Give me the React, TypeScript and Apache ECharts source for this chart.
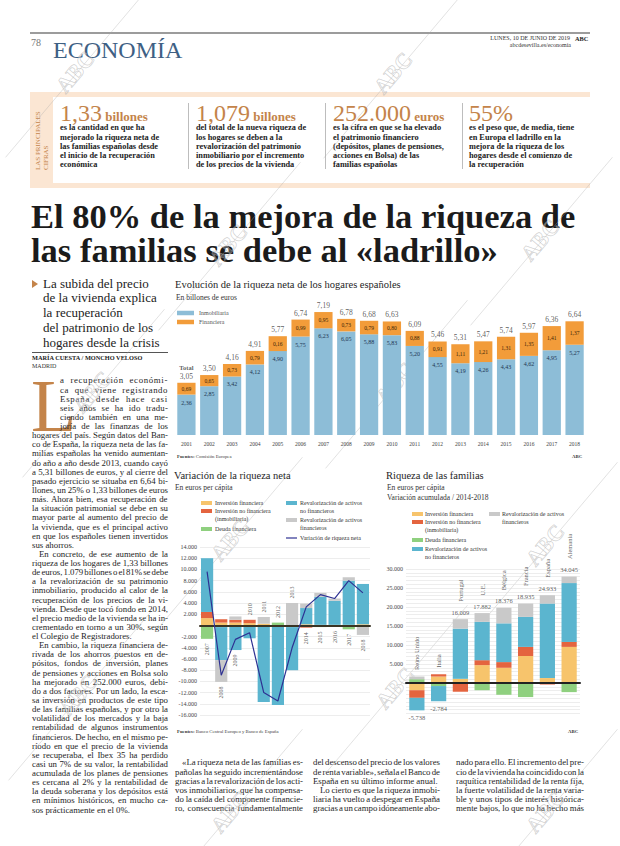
import React, { useEffect, useRef } from "react";
import * as echarts from "echarts";

// ---------- DATA ----------
const years1 = ["2001","2002","2003","2004","2005","2006","2007","2008","2009","2010","2011","2012","2013","2014","2015","2016","2017","2018"];
const inmobiliaria = [2.36, 2.85, 3.42, 4.12, 4.90, 5.75, 6.23, 6.05, 5.88, 5.83, 5.20, 4.55, 4.19, 4.26, 4.43, 4.62, 4.95, 5.27];
const financiera = [0.69, 0.65, 0.73, 0.79, 0.87, 0.99, 0.95, 0.73, 0.79, 0.80, 0.88, 0.91, 1.11, 1.21, 1.31, 1.35, 1.41, 1.37];
const financieraPrinted = ["0,69","0,65","0,73","0,79","0,16","0,99","0,95","0,73","0,79","0,80","0,88","0,91","1,11","1,21","1,31","1,35","1,41","1,37"];
const totals1 = [3.05, 3.50, 4.16, 4.91, 5.77, 6.74, 7.19, 6.78, 6.68, 6.63, 6.09, 5.46, 5.31, 5.47, 5.74, 5.97, 6.36, 6.64];

const years2 = ["2007","2008","2009","2010","2011","2012","2013","2014","2015","2016","2017","2018"];
const invFin2 = [1300, 500, 500, 400, 300, 0, 0, 200, 100, 100, 100, 200];
const invNoFin2 = [1100, 600, 500, 600, 0, 0, -300, -400, 0, 0, 0, 0];
const deuda2 = [-2400, -300, 0, 0, 0, 500, 0, 0, -300, -200, -700, 0];
const actNoFin2 = [9600, -5900, -4400, -2300, -13700, -14200, -7700, 2900, 5000, 4300, 7900, 7200];
const actFin2 = [0, -3900, 600, 0, 1200, 0, 4000, 800, 700, 400, 600, -1700];
const neta2 = [9600, -8900, -2500, -1300, -12000, -13500, -4000, 3300, 5500, 4800, 8000, 5800];
const yearSide2 = ["below","below","below","above","above","above","above","below","below","below","below","below"];

const countries = ["Reino Unido","Italia","Portugal","U.E.","Bélgica","Francia","España","Alemania"];
const invFin3 = [-1900, 1700, 1100, 4700, 4000, 7100, 1300, 9500];
const invNoFin3 = [-2000, 600, -2300, 1300, 1500, 2400, -400, 1300];
const deuda3 = [1000, -800, 0, -1900, -3100, -3700, 0, -2400];
const actNoFin3 = [-3300, -4000, 13200, 10100, 10200, 7900, 19600, 15500];
const actFin3 = [700, 0, 2500, 2300, 4100, 3500, 2200, 1700];
const total3 = [-5738, -2784, 16009, 17882, 18376, 18935, 24933, 34045];

const serieNames = [
  "Inversión financiera",
  "Inversión no financiera (inmobiliaria)",
  "Deuda financiera",
  "Revalorización de activos no financieros",
  "Revalorización de activos financieros",
];
const netaName = "Variación de riqueza neta";

// ---------- STYLE ----------
const F = '"Liberation Serif", "DejaVu Serif", serif';
const C_INM = "#8dbdd7";
const C_FIN = "#f29c3a";
const C_IF = "#f7c46c";
const C_INF = "#e4643f";
const C_DEU = "#8fd07f";
const C_ANF = "#5bb5cf";
const C_AF = "#c9c9c9";
const C_NETA = "#2e3192";
const COLS5 = [C_IF, C_INF, C_DEU, C_ANF, C_AF];
const ORANGE_TXT = "#c4844a";

const fmtComma = (v: number) => v.toFixed(2).replace(".", ",");
const fmtDot = (v: number) => {
  const s = Math.abs(Math.round(v)).toString().replace(/\B(?=(\d{3})+(?!\d))/g, ".");
  return (v < 0 ? "-" : "") + s;
};

const sumSign = (arrs: number[][], i: number, pos: boolean) =>
  arrs.reduce((s, a) => s + (pos ? Math.max(0, a[i]) : Math.min(0, a[i])), 0);

const set2 = [invFin2, invNoFin2, deuda2, actNoFin2, actFin2];
const set3 = [invFin3, invNoFin3, deuda3, actNoFin3, actFin3];

// ---------- TEXT CONTENT ----------
const cifras = [
  { x: 60, big: "1,33", unit: "billones", lines: ["es la cantidad en que ha", "mejorado la riqueza neta de", "las familias españolas desde", "el inicio de la recuperación", "económica"] },
  { x: 196, big: "1,079", unit: "billones", lines: ["del total de la nueva riqueza de", "los hogares se deben a la", "revalorización del patrimonio", "inmobiliario por el incremento", "de los precios de la vivienda"] },
  { x: 333, big: "252.000", unit: "euros", lines: ["es la cifra en que se ha elevado", "el patrimonio financiero", "(depósitos, planes de pensiones,", "acciones en Bolsa) de las", "familias españolas"] },
  { x: 469, big: "55%", unit: "", lines: ["es el peso que, de media, tiene", "en Europa el ladrillo en la", "mejora de la riqueza de los", "hogares desde el comienzo de", "la recuperación"] },
];

const subhead = ["La subida del precio", "de la vivienda explica", "la recuperación", "del patrimonio de los", "hogares desde la crisis"];

const dropLines = [
  "a recuperación económi-",
  "ca que viene registrando",
  "España desde hace casi",
  "seis años se ha ido tradu-",
  "ciendo también en una me-",
  "joría de las finanzas de los",
];
const bodyLines = [
  "hogares del país. Según datos del Ban-",
  "co de España, la riqueza neta de las fa-",
  "milias españolas ha venido aumentan-",
  "do año a año desde 2013, cuando cayó",
  "a 5,31 billones de euros, y al cierre del",
  "pasado ejercicio se situaba en 6,64 bi-",
  "llones, un 25% o 1,33 billones de euros",
  "más. Ahora bien, esa recuperación de",
  "la situación patrimonial se debe en su",
  "mayor parte al aumento del precio de",
  "la vivienda, que es el principal activo",
  "en que los españoles tienen invertidos",
  "sus ahorros.$",
  "^En concreto, de ese aumento de la",
  "riqueza de los hogares de 1,33 billones",
  "de euros, 1.079 billones o el 81% se debe",
  "a la revalorización de su patrimonio",
  "inmobiliario, producido al calor de la",
  "recuperación de los precios de la vi-",
  "vienda. Desde que tocó fondo en 2014,",
  "el precio medio de la vivienda se ha in-",
  "crementado en torno a un 30%, según",
  "el Colegio de Registradores.$",
  "^En cambio, la riqueza financiera de-",
  "rivada de los ahorros puestos en de-",
  "pósitos, fondos de inversión, planes",
  "de pensiones y acciones en Bolsa solo",
  "ha mejorado en 252.000 euros, debi-",
  "do a dos factores. Por un lado, la esca-",
  "sa inversión en productos de este tipo",
  "de las familias españolas, y por otro la",
  "volatilidad de los mercados y la baja",
  "rentabilidad de algunos instrumentos",
  "financieros. De hecho, en el mismo pe-",
  "ríodo en que el precio de la vivienda",
  "se recuperaba, el Ibex 35 ha perdido",
  "casi un 7% de su valor, la rentabilidad",
  "acumulada de los planes de pensiones",
  "es cercana al 2% y la rentabilidad de",
  "la deuda soberana y los depósitos está",
  "en mínimos históricos, en mucho ca-",
  "sos prácticamente en el 0%.$",
];
const col1 = [
  "^«La riqueza neta de las familias es-",
  "pañolas ha seguido incrementándose",
  "gracias a la revalorización de los acti-",
  "vos inmobiliarios, que ha compensa-",
  "do la caída del componente financie-",
  "ro, consecuencia fundamentalmente",
];
const col2 = [
  "del descenso del precio de los valores",
  "de renta variable», señala el Banco de",
  "España en su último informe anual.$",
  "^Lo cierto es que la riqueza inmobi-",
  "liaria ha vuelto a despegar en España",
  "gracias a un campo idóneamente abo-",
];
const col3 = [
  "nado para ello. El incremento del pre-",
  "cio de la vivienda ha coincidido con la",
  "raquítica rentabilidad de la renta fija,",
  "la fuerte volatilidad de la renta varia-",
  "ble y unos tipos de interés histórica-",
  "mente bajos, lo que no ha hecho más",
];

// ---------- HTML helpers ----------
let _ctx: CanvasRenderingContext2D | null = null;
function textWidth(t: string, font: string) {
  if (!_ctx) _ctx = document.createElement("canvas").getContext("2d");
  if (!_ctx) return t.length * 4;
  _ctx.font = font;
  return _ctx.measureText(t).width;
}

function Lines(props: { lines: string[]; x: number; y0: number; w: number; lh: number; fs: number; indent?: number; bold?: boolean; color?: string; justify?: boolean }) {
  const { lines, x, y0, w, lh, fs, indent = 7, bold, color = "#1e1e1e", justify = true } = props;
  const font = `${bold ? "bold " : ""}${fs}px "Liberation Serif"`;
  return (
    <>
      {lines.map((raw, i) => {
        let t = raw;
        let ind = 0;
        let last = !justify;
        if (t.startsWith("^")) { ind = indent; t = t.slice(1); }
        if (t.endsWith("$")) { last = true; t = t.slice(0, -1); }
        const avail = w - ind;
        const natural = textWidth(t, font);
        const spaces = (t.match(/ /g) || []).length;
        let ws = 0;
        let ls = 0;
        if (!last && spaces > 0) {
          ws = (avail - natural) / spaces;
          if (ws > 3) { ws = 3; ls = (avail - natural - ws * spaces) / t.length; }
          if (ws < -1) { ws = -1; ls = (avail - natural - ws * spaces) / t.length; }
        } else if (last && natural > avail) {
          ls = (avail - natural) / t.length;
        }
        return (
          <div key={i} style={{
            position: "absolute", left: x + ind, top: y0 + i * lh - lh / 2, height: lh,
            lineHeight: lh + "px", fontSize: fs, fontWeight: bold ? "bold" : "normal", color,
            whiteSpace: "pre", wordSpacing: ws + "px", letterSpacing: ls + "px",
          }}>{t}</div>
        );
      })}
    </>
  );
}

// ---------- CHART OPTION ----------
function buildOption() {
  const pos2 = years2.map((_, i) => sumSign(set2, i, true));
  const neg2 = years2.map((_, i) => sumSign(set2, i, false));
  const pos3 = countries.map((_, i) => sumSign(set3, i, true));
  const neg3 = countries.map((_, i) => sumSign(set3, i, false));

  const title = (text: string, left: number, cy: number) => ({
    text, left, top: cy - 6, padding: 0,
    textStyle: { fontFamily: F, fontSize: 10.5, fontWeight: "normal", color: "#1e1e1e", lineHeight: 12 },
  });

  const txt = (text: string, x: number, y: number, fs: number, extra: any = {}) => ({
    type: "text", x, y, silent: true,
    style: { text, fontSize: fs, fontFamily: F, fill: "#333", verticalAlign: "middle", align: "left", ...extra },
  });
  const sw = (x: number, y: number, w: number, h: number, fill: string) => ({
    type: "rect", silent: true, shape: { x, y, width: w, height: h }, style: { fill },
  });

  const wmCenters = [[75, 72], [393, 73], [228, 245], [540, 240], [92, 392], [395, 383], [230, 540], [545, 545], [78, 695], [395, 688], [230, 812], [545, 812]];
  const watermarks = wmCenters.map(([cx, cy]) => ({
    type: "group", x: cx, y: cy, rotation: 0.87, silent: true, z: 100,
    children: [
      { type: "line", shape: { x1: -110, y1: 2, x2: 110, y2: 2 }, style: { stroke: "rgba(170,170,170,0.45)", lineWidth: 0.7 } },
      { type: "text", style: { text: "ABC", fontSize: 22, fontFamily: F, fontWeight: "bold", fill: "rgba(255,255,255,0.25)", stroke: "rgba(160,160,160,0.55)", lineWidth: 0.7, align: "center", verticalAlign: "middle" } },
    ],
  }));

  const graphic: any[] = [
    // chart 1 subtitles / footer
    txt("En billones de euros", 176, 297, 7.5, { fill: "#333" }),
    txt("{b|Fuentes:} Comisión Europea", 177, 456, 4.8, { fill: "#444", rich: { b: { fontWeight: "bold", fontSize: 4.8, fontFamily: F, fill: "#333" } } }),
    txt("ABC", 572, 456, 4.8, { fill: "#333", fontWeight: "bold" }),
    // chart 2
    txt("En euros per cápita", 175, 487.5, 7.5),
    sw(201, 501, 11, 4, C_IF), txt("Inversión financiera", 215, 503, 6),
    sw(201, 509, 11, 4, C_INF), txt("Inversión no financiera", 215, 511, 6), txt("(inmobiliaria)", 215, 518.5, 6),
    sw(201, 527, 11, 4, C_DEU), txt("Deuda financiera", 215, 529, 6),
    sw(286, 501, 11, 4, C_ANF), txt("Revalorización de activos", 300, 503, 6), txt("no financieros", 300, 511, 6),
    sw(286, 518, 11, 4, C_AF), txt("Revalorización de activos", 300, 520, 6), txt("financieros", 300, 528, 6),
    { type: "line", silent: true, shape: { x1: 286, y1: 538, x2: 297, y2: 538 }, style: { stroke: C_NETA, lineWidth: 1.2 } },
    txt("Variación de riqueza neta", 300, 538, 6),
    txt("{b|Fuentes:} Banco Central Europeo y Banco de España", 177, 731, 4.8, { fill: "#444", rich: { b: { fontWeight: "bold", fontSize: 4.8, fontFamily: F, fill: "#333" } } }),
    // chart 3
    txt("En euros per cápita", 387, 487, 7.5),
    txt("Variación acumulada / 2014-2018", 387, 497.5, 7.5),
    sw(412, 512, 11, 4, C_IF), txt("Inversión financiera", 425, 514, 6),
    sw(412, 520, 11, 4, C_INF), txt("Inversión no financiera", 425, 522, 6), txt("(inmobiliaria)", 425, 529.5, 6),
    sw(412, 538, 11, 4, C_DEU), txt("Deuda financiera", 425, 540, 6),
    sw(412, 547, 11, 4, C_ANF), txt("Revalorización de activos", 425, 549, 6), txt("no financieros", 425, 556.5, 6),
    sw(489, 512, 11, 4, C_AF), txt("Revalorización de activos", 502, 514, 6), txt("financieros", 502, 521.5, 6),
    txt("ABC", 568, 731, 4.8, { fill: "#333", fontWeight: "bold" }),
    ...watermarks,
  ];

  const bars2 = serieNames.map((name, k) => ({
    name, type: "bar", stack: "v", xAxisIndex: 1, yAxisIndex: 1, data: set2[k],
    itemStyle: { color: COLS5[k] }, barCategoryGap: "14%", z: 2,
  }));
  const bars3 = serieNames.map((name, k) => ({
    name, type: "bar", stack: "r", xAxisIndex: 2, yAxisIndex: 2, data: set3[k],
    itemStyle: { color: COLS5[k] }, barCategoryGap: "30%", z: 2,
  }));

  return {
    animation: false,
    textStyle: { fontFamily: F },
    title: [
      title("Evolución de la riqueza neta de los hogares españoles", 175, 284),
      title("Variación de la riqueza neta", 174, 475),
      title("Riqueza de las familias", 386, 475),
    ],
    legend: [{
      data: ["Inmobiliaria", "Financiera"], left: 177, top: 309.5, orient: "vertical", icon: "rect", padding: 0,
      itemWidth: 17, itemHeight: 4.5, itemGap: 2, selectedMode: false,
      textStyle: { fontSize: 6, color: "#555", fontFamily: F, lineHeight: 7 },
    }],
    grid: [
      { left: 175, top: 298, width: 411, height: 137 },
      { left: 200, top: 547, width: 170, height: 168 },
      { left: 406, top: 569, width: 174, height: 144.4 },
    ],
    xAxis: [
      { gridIndex: 0, type: "category", data: years1, axisLine: { show: false }, axisTick: { show: false },
        axisLabel: { fontSize: 5.5, color: "#444", margin: 6, fontFamily: F } },
      { gridIndex: 1, type: "category", data: years2, z: 5, axisLine: { onZero: true, lineStyle: { color: "#3a3424", width: 2 } },
        axisTick: { show: false }, axisLabel: { show: false } },
      { gridIndex: 2, type: "category", data: countries, z: 5, axisLine: { onZero: true, lineStyle: { color: "#222", width: 2 } },
        axisTick: { show: false }, axisLabel: { show: false } },
    ],
    yAxis: [
      { gridIndex: 0, type: "value", min: 0, max: 8, show: false },
      { gridIndex: 1, type: "value", min: -16000, max: 14000, interval: 2000,
        axisLine: { show: false }, axisTick: { show: false },
        splitLine: { lineStyle: { color: "#e0e0e0", width: 0.6 } },
        axisLabel: { fontSize: 6, color: "#444", margin: 3, fontFamily: F, formatter: (v: number) => (v === 0 ? "" : fmtDot(v)) } },
      { gridIndex: 2, type: "value", min: -8000, max: 30000, interval: 1000,
        axisLine: { show: false }, axisTick: { show: false },
        splitLine: { lineStyle: { color: "#dadada", width: 0.5 } },
        axisLabel: { fontSize: 6, color: "#444", margin: 3, fontFamily: F, formatter: (v: number) => (v > 0 && v % 5000 === 0 ? fmtDot(v) : "") } },
    ],
    series: [
      { name: "Inmobiliaria", type: "bar", stack: "a", xAxisIndex: 0, yAxisIndex: 0, data: inmobiliaria,
        itemStyle: { color: C_INM }, barCategoryGap: "20%",
        label: { show: true, position: "insideTop", distance: 5, fontSize: 6, color: "#1d3552", fontFamily: F, formatter: (p: any) => fmtComma(p.value) } },
      { name: "Financiera", type: "bar", stack: "a", xAxisIndex: 0, yAxisIndex: 0, data: financiera,
        itemStyle: { color: C_FIN },
        label: { show: true, position: "inside", fontSize: 5.5, color: "#3b2508", fontFamily: F, formatter: (p: any) => financieraPrinted[p.dataIndex] } },
      { name: "Total", type: "scatter", xAxisIndex: 0, yAxisIndex: 0, data: totals1, symbolSize: 1, itemStyle: { color: "rgba(0,0,0,0)" },
        label: { show: true, position: "top", distance: 2, fontSize: 7.5, color: "#333", fontFamily: F,
          formatter: (p: any) => (p.dataIndex === 0 ? "{t|Total}\n" : "") + fmtComma(p.value),
          rich: { t: { fontSize: 6.5, fontWeight: "bold", color: "#333", fontFamily: F, lineHeight: 10 } } } },
      ...bars2,
      { name: netaName, type: "line", xAxisIndex: 1, yAxisIndex: 1, data: neta2, symbol: "none", z: 6,
        lineStyle: { color: C_NETA, width: 1.2 }, itemStyle: { color: C_NETA } },
      { name: "Años", type: "scatter", xAxisIndex: 1, yAxisIndex: 1, symbolSize: 1, itemStyle: { color: "rgba(0,0,0,0)" }, z: 7,
        data: years2.map((_, i) => {
          const above = yearSide2[i] === "above";
          return { value: [i, above ? pos2[i] : neg2[i]],
            label: { position: above ? "top" : "bottom", align: above ? "left" : "right" } };
        }),
        label: { show: true, rotate: 90, verticalAlign: "middle", distance: 4, fontSize: 6, color: "#333", fontFamily: F,
          formatter: (p: any) => years2[p.dataIndex] } },
      ...bars3,
      { name: "Totales", type: "scatter", xAxisIndex: 2, yAxisIndex: 2, symbolSize: 1, itemStyle: { color: "rgba(0,0,0,0)" }, z: 7,
        data: countries.map((_, i) => ({ value: [i, total3[i] >= 0 ? pos3[i] : neg3[i]],
          label: { position: total3[i] >= 0 ? "top" : "bottom" } })),
        label: { show: true, distance: 3, fontSize: 6.5, color: "#333", fontFamily: F, formatter: (p: any) => fmtDot(total3[p.dataIndex]) } },
      { name: "Países", type: "scatter", xAxisIndex: 2, yAxisIndex: 2, symbolSize: 1, itemStyle: { color: "rgba(0,0,0,0)" }, z: 7,
        data: countries.map((_, i) => ({ value: [i, pos3[i]], label: { distance: total3[i] >= 0 ? 17 : 6 } })),
        label: { show: true, position: "top", rotate: 90, align: "left", verticalAlign: "middle", fontSize: 6.5, color: "#333", fontFamily: F,
          formatter: (p: any) => countries[p.dataIndex] } },
    ],
    graphic,
  };
}

export default function App() {
  const ref = useRef<HTMLDivElement>(null);
  useEffect(() => {
    if (!ref.current) return;
    const chart = echarts.init(ref.current, null, { renderer: "svg" });
    chart.setOption(buildOption() as any);
    return () => chart.dispose();
  }, []);

  const lhBody = 9.13;
  const fsBody = 8.8;
  return (
    <div style={{ position: "absolute", left: 0, top: 0, width: 620, height: 846, background: "#fff", overflow: "hidden", fontFamily: F, color: "#1e1e1e" }}>
      {/* header */}
      <div style={{ position: "absolute", left: 30, top: 32, width: 560, height: 2, background: "#9c9c9c" }} />
      <div style={{ position: "absolute", left: 31, top: 38, fontSize: 10, lineHeight: "10px", color: "#777" }}>78</div>
      <div style={{ position: "absolute", left: 53, top: 38, fontSize: 24, lineHeight: "24px", color: "#3e6084" }}>ECONOMÍA</div>
      <div style={{ position: "absolute", left: 440, top: 34.5, width: 130, textAlign: "right", fontSize: 6, lineHeight: "7px", color: "#333" }}>LUNES, 10 DE JUNIO DE 2019</div>
      <div style={{ position: "absolute", left: 575, top: 34.5, fontSize: 6.3, lineHeight: "7px", fontWeight: "bold", color: "#222" }}>ABC</div>
      <div style={{ position: "absolute", left: 440, top: 41.5, width: 131, textAlign: "right", fontSize: 6, lineHeight: "7px", color: "#333" }}>abcdesevilla.es/economia</div>

      {/* cifras band */}
      <div style={{ position: "absolute", left: 30, top: 92, width: 560, height: 5, background: "#fbe6d3" }} />
      <div style={{ position: "absolute", left: 30, top: 183, width: 560, height: 5, background: "#fbe6d3" }} />
      <div style={{ position: "absolute", left: 30, top: 92, width: 23, height: 96, background: "#fbe6d3" }} />
      <div style={{ position: "absolute", left: 35, top: 170, transformOrigin: "0 0", transform: "rotate(-90deg)", fontSize: 7, lineHeight: "7px", whiteSpace: "nowrap", color: ORANGE_TXT }}>LAS PRINCIPALES</div>
      <div style={{ position: "absolute", left: 42.5, top: 170, transformOrigin: "0 0", transform: "rotate(-90deg)", fontSize: 7, lineHeight: "7px", whiteSpace: "nowrap", color: ORANGE_TXT }}>CIFRAS</div>
      {[188, 325, 462].map((x) => (
        <div key={x} style={{ position: "absolute", left: x, top: 103, width: 1, height: 66, background: "#bdbdbd" }} />
      ))}
      {cifras.map((c, k) => (
        <React.Fragment key={k}>
          <div style={{ position: "absolute", left: c.x, top: 101, fontSize: 24, lineHeight: "24px", color: ORANGE_TXT, whiteSpace: "nowrap" }}>
            {c.big}{c.unit ? <span style={{ fontSize: 13, fontWeight: "bold" }}> {c.unit}</span> : null}
          </div>
          <Lines lines={c.lines} x={c.x} y0={128} w={135} lh={9.25} fs={8.3} bold justify={false} color="#222" />
        </React.Fragment>
      ))}

      {/* headline */}
      <div style={{ position: "absolute", left: 31, top: 199, fontSize: 34.5, lineHeight: "34px", fontWeight: "bold", color: "#1b1b1b", whiteSpace: "nowrap" }}>El 80% de la mejora de la riqueza de</div>
      <div style={{ position: "absolute", left: 31, top: 233, fontSize: 34.5, lineHeight: "34px", fontWeight: "bold", color: "#1b1b1b", whiteSpace: "nowrap" }}>las familias se debe al «ladrillo»</div>

      {/* subhead */}
      <div style={{ position: "absolute", left: 32, top: 280, width: 0, height: 0, borderTop: "4px solid transparent", borderBottom: "4px solid transparent", borderLeft: "6px solid " + ORANGE_TXT }} />
      <Lines lines={subhead} x={43} y0={284} w={130} lh={14.8} fs={13} justify={false} color="#222" />
      <div style={{ position: "absolute", left: 32, top: 352, width: 136, height: 1, background: "#555" }} />
      <div style={{ position: "absolute", left: 32, top: 354, fontSize: 6.3, lineHeight: "8px", fontWeight: "bold", color: "#222", whiteSpace: "nowrap" }}>MARÍA CUESTA / MONCHO VELOSO</div>
      <div style={{ position: "absolute", left: 32, top: 363, fontSize: 6, lineHeight: "7px", color: "#333" }}>MADRID</div>

      {/* body */}
      <div style={{ position: "absolute", left: 31, top: 381, fontSize: 74, lineHeight: "50px", height: 50, color: ORANGE_TXT }}>L</div>
      <Lines lines={dropLines} x={60} y0={381} w={108} lh={lhBody} fs={fsBody} />
      <Lines lines={bodyLines} x={32} y0={381 + 6 * lhBody} w={136} lh={lhBody} fs={fsBody} />

      <Lines lines={col1} x={175} y0={763} w={128} lh={9.2} fs={fsBody} />
      <Lines lines={col2} x={313} y0={763} w={127} lh={9.2} fs={fsBody} />
      <Lines lines={col3} x={456} y0={763} w={128} lh={9.2} fs={fsBody} />

      <div ref={ref} style={{ position: "absolute", left: 0, top: 0, width: 620, height: 846 }} />
    </div>
  );
}
